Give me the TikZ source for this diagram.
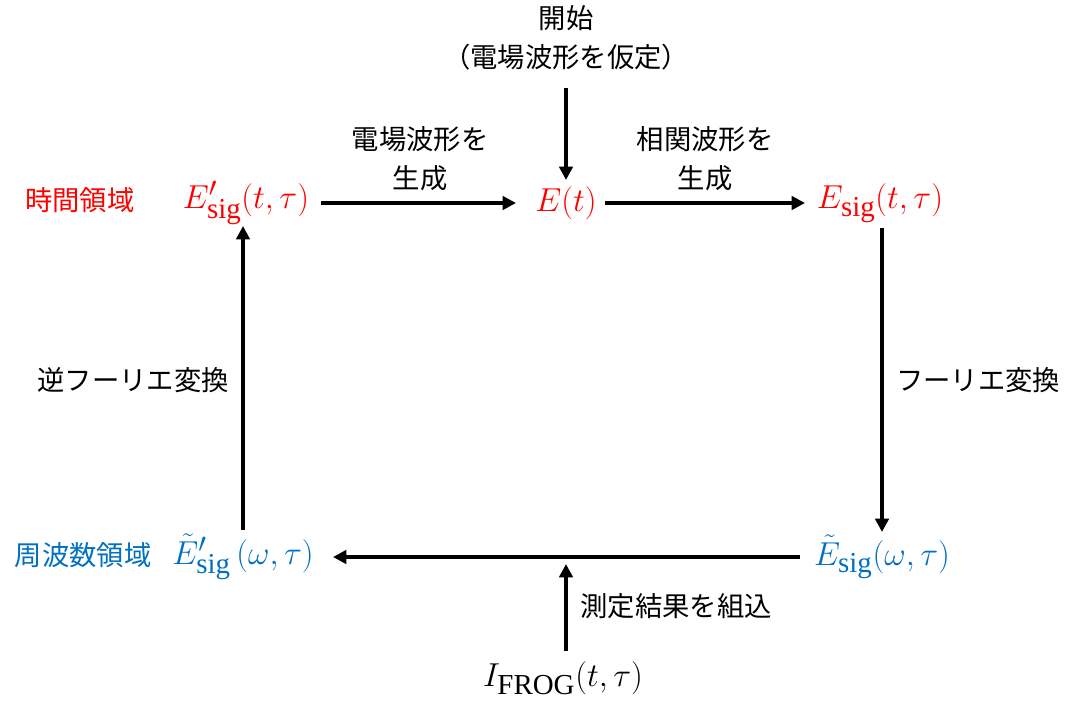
\documentclass[tikz,border=0pt]{standalone}
\usepackage{fontspec}
\setmainfont{Liberation Serif}
\newfontfamily\jp{Noto Sans CJK JP}
\usetikzlibrary{arrows.meta}
\definecolor{myred}{RGB}{255,0,0}
\definecolor{myblue}{RGB}{0,112,192}
\begin{document}
\begin{tikzpicture}[x=0.75pt,y=-0.75pt,
  jtext/.style={font=\jp\fontsize{20.5}{29}\selectfont, align=center, inner sep=0pt},
  mtext/.style={font=\fontsize{31}{36}\selectfont, inner sep=0pt},
  arr/.style={line width=3pt, -{Triangle[length=10pt,width=10pt]}}]
\useasboundingbox (0,0) rectangle (1067,700);
\node[jtext] (start) at (566,38) {開始\\（電場波形を仮定）};
\node[mtext, text=myred] (Et) at (566,203) {$E(t)$};
\node[mtext, text=myred] (Esigp) at (246,203) {$E'_{\mathrm{sig}}(t,\tau)$};
\node[mtext, text=myred] (Esig) at (880,203) {$E_{\mathrm{sig}}(t,\tau)$};
\node[mtext, text=myblue] (Wsig) at (882,557) {$\tilde{E}_{\mathrm{sig}}(\omega,\tau)$};
\node[mtext, text=myblue] (Wsigp) at (243,557) {$\tilde{E}'_{\mathrm{sig}}\,(\omega,\tau)$};
\node[mtext] (I) at (563,678) {$I_{\mathrm{FROG}}(t,\tau)$};
\node[jtext, text=myred] (time) at (80,200) {時間領域};
\node[jtext, text=myblue] (freq) at (83,555) {周波数領域};
\node[jtext] (l1) at (420,159) {電場波形を\\生成};
\node[jtext] (l2) at (705,159) {相関波形を\\生成};
\node[jtext] (l3) at (978,380) {フーリエ変換};
\node[jtext] (l4) at (133,380) {逆フーリエ変換};
\node[jtext] (l5) at (676,606) {測定結果を組込};
\coordinate (s1) at (566,88);
\coordinate (s2) at (566,180);
\draw[arr] (s1) -- (s2);
\coordinate (a1) at (321,203);
\coordinate (a2) at (516,203);
\draw[arr] (a1) -- (a2);
\coordinate (b1) at (605,203);
\coordinate (b2) at (805,203);
\draw[arr] (b1) -- (b2);
\coordinate (r1) at (882,228);
\coordinate (r2) at (882,532);
\draw[arr] (r1) -- (r2);
\coordinate (c1) at (800,557);
\coordinate (c2) at (333,557);
\draw[arr] (c1) -- (c2);
\coordinate (d1) at (243,530);
\coordinate (d2) at (243,226);
\draw[arr] (d1) -- (d2);
\coordinate (e1) at (566,651);
\coordinate (e2) at (566,564);
\draw[arr] (e1) -- (e2);
\end{tikzpicture}
\end{document}
